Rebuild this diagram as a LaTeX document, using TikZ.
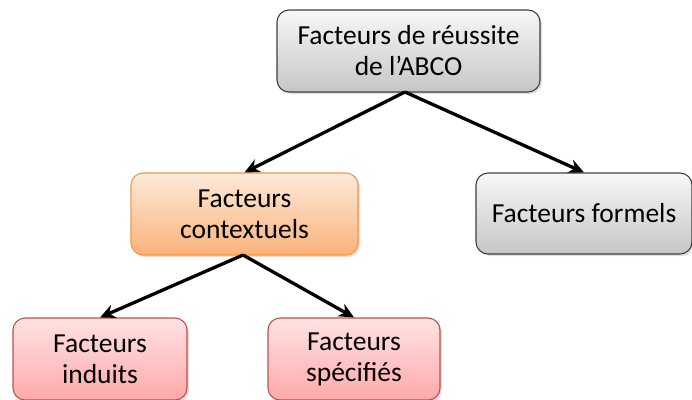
\documentclass[tikz,border=0pt]{standalone}
\usepackage{fontspec}
\setmainfont{Carlito}
\usetikzlibrary{arrows.meta,shadows}
\definecolor{grayborder}{HTML}{3F3F3F}
\definecolor{graytop}{HTML}{F7F7F7}
\definecolor{graybot}{HTML}{C6C6C6}
\definecolor{orborder}{HTML}{F79646}
\definecolor{ortop}{HTML}{FDEADA}
\definecolor{orbot}{HTML}{FBB27A}
\definecolor{rdborder}{HTML}{C0504D}
\definecolor{rdtop}{HTML}{FFE3E3}
\definecolor{rdbot}{HTML}{FFA9A9}
\tikzset{
  box/.style={draw, line width=1.1pt, rounded corners=12pt, align=center,
    font=\fontsize{27.5}{31}\selectfont, inner sep=0pt,
    drop shadow={shadow xshift=2pt, shadow yshift=-2pt, opacity=0.25}},
  graybox/.style={box, draw=grayborder, top color=graytop, bottom color=graybot},
  orbox/.style={box, draw=orborder, top color=ortop, bottom color=orbot},
  rdbox/.style={box, draw=rdborder, top color=rdtop, bottom color=rdbot},
  conn/.style={line width=3.3pt, -{Stealth[length=15pt,width=14pt]}}
}
\begin{document}
\begin{tikzpicture}[x=1pt,y=-1pt]
\useasboundingbox (0,0) rectangle (692,399);
\node[graybox, minimum width=263pt, minimum height=82pt] (top) at (408.5,51) {Facteurs de réussite\\de l’ABCO};
\node[orbox, minimum width=227pt, minimum height=82pt] (ctx) at (244.5,214) {Facteurs\\contextuels};
\node[graybox, minimum width=216pt, minimum height=81pt] (frm) at (584,213.5) {Facteurs formels};
\node[rdbox, minimum width=174pt, minimum height=82pt] (ind) at (100,359) {Facteurs\\induits};
\node[rdbox, minimum width=172pt, minimum height=82pt] (spe) at (354,359) {Facteurs\\spécifiés};
\coordinate (topb) at (405,92);
\coordinate (ctxb) at (243,255);
\draw[conn] (topb) -- (ctx.north);
\draw[conn] (topb) -- (frm.north);
\draw[conn] (ctxb) -- (ind.north);
\draw[conn] (ctxb) -- (spe.north);
\end{tikzpicture}
\end{document}
